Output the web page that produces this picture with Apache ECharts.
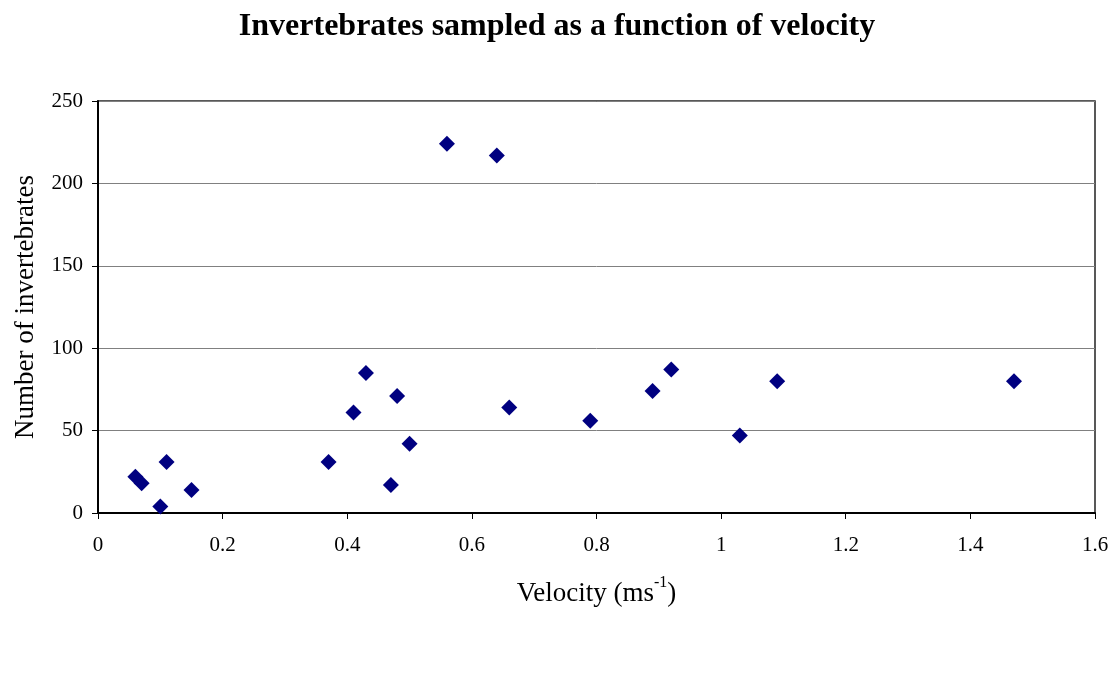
<!DOCTYPE html>
<html>
<head>
<meta charset="utf-8">
<script src="https://cdn.jsdelivr.net/npm/echarts@6/dist/echarts.min.js"></script>
<style>html,body{margin:0;padding:0;background:#fff}#c{width:1114px;height:683px}</style>
</head>
<body>
<div id="c"></div>
<script>
var velocity = [0.06, 0.07, 0.10, 0.11, 0.15, 0.37, 0.41, 0.43, 0.47, 0.48, 0.50, 0.56, 0.64, 0.66, 0.79, 0.89, 0.92, 1.03, 1.09, 1.47];
var invertebrates = [22, 18, 4, 31, 14, 31, 61, 85, 17, 71, 42, 224, 217, 64, 56, 74, 87, 47, 80, 80];
var titleText = 'Invertebrates sampled as a function of velocity';
var yName = 'Number of invertebrates';

var points = velocity.map(function (v, i) { return [v, invertebrates[i]]; });
var font = '"Liberation Serif", "Times New Roman", serif';

var chart = echarts.init(document.getElementById('c'), null, {renderer: 'canvas'});
chart.setOption({
  backgroundColor: '#fff',
  animation: false,
  title: {
    text: titleText,
    left: 'center',
    top: 6,
    textStyle: {fontFamily: font, fontSize: 32, fontWeight: 'bold', color: '#000'}
  },
  grid: {
    left: 98, right: 19, top: 101, bottom: 170,
    show: true, borderColor: '#222', borderWidth: 1.5, backgroundColor: '#fff'
  },
  xAxis: {
    type: 'value', min: 0, max: 1.6, interval: 0.2,
    name: '{a|Velocity (ms}{s|-1}{a|)}',
    nameLocation: 'middle', nameGap: 62,
    nameTextStyle: {
      rich: {
        a: {fontFamily: font, fontSize: 27, color: '#000', verticalAlign: 'bottom', lineHeight: 32},
        s: {fontFamily: font, fontSize: 16, color: '#000', verticalAlign: 'top', lineHeight: 32, padding: [0, 0, 14, 0]}
      }
    },
    axisLine: {show: true, onZero: false, lineStyle: {color: '#000', width: 2}},
    axisTick: {show: true, inside: false, length: 6, lineStyle: {color: '#000'}},
    axisLabel: {fontFamily: font, fontSize: 21, color: '#000', margin: 22},
    splitLine: {show: false}
  },
  yAxis: {
    type: 'value', min: 0, max: 250, interval: 50,
    name: yName, nameLocation: 'middle', nameGap: 59, nameRotate: 90,
    nameTextStyle: {fontFamily: font, fontSize: 27, color: '#000'},
    axisLine: {show: true, onZero: false, lineStyle: {color: '#000', width: 2}},
    axisTick: {show: true, inside: false, length: 6, lineStyle: {color: '#000'}},
    axisLabel: {fontFamily: font, fontSize: 21, color: '#000', margin: 15},
    splitLine: {show: true, lineStyle: {color: '#808080', width: 1}}
  },
  series: [{
    type: 'scatter',
    data: points,
    symbol: 'diamond',
    symbolSize: 16,
    itemStyle: {color: '#000080', opacity: 1}
  }]
});
</script>
</body>
</html>
